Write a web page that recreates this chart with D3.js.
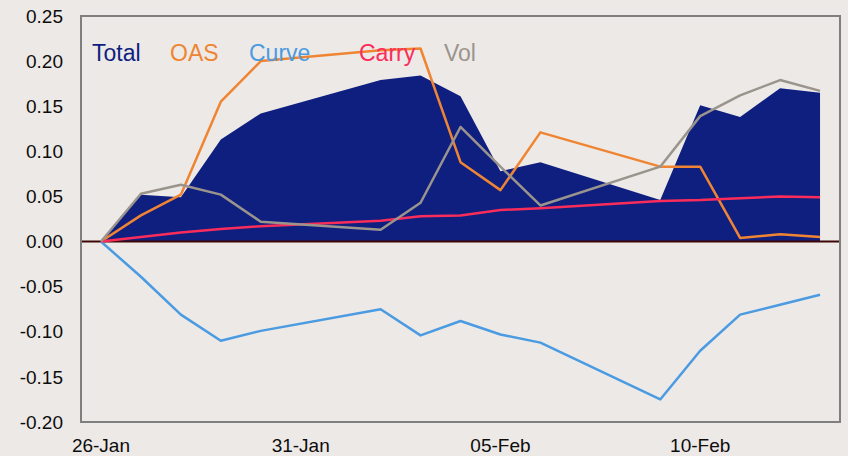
<!DOCTYPE html>
<html>
<head>
<meta charset="utf-8" />
<script src="https://d3js.org/d3.v7.min.js"></script>
<style>
	body { margin: 0; background: #ede9e6; }
	text { font-family: "Liberation Sans", Arial, sans-serif; }
</style>
</head>
<body>
<div id="chart"></div>
<script>

// business days, 26-Jan to 13-Feb
var dates = ["2015-01-26", "2015-01-27", "2015-01-28", "2015-01-29", "2015-01-30",
	"2015-02-02", "2015-02-03", "2015-02-04", "2015-02-05", "2015-02-06",
	"2015-02-09", "2015-02-10", "2015-02-11", "2015-02-12", "2015-02-13"];

var total = [0, 0.052, 0.049, 0.113, 0.142, 0.179, 0.184, 0.161, 0.078, 0.088, 0.046, 0.151, 0.138, 0.170, 0.165];
var oas   = [0, 0.029, 0.052, 0.155, 0.200, 0.212, 0.214, 0.088, 0.057, 0.121, 0.083, 0.083, 0.004, 0.008, 0.005];
var curve = [0, -0.039, -0.081, -0.110, -0.099, -0.075, -0.104, -0.088, -0.103, -0.112, -0.175, -0.121, -0.081, -0.070, -0.059];
var carry = [0, 0.005, 0.010, 0.014, 0.017, 0.023, 0.028, 0.029, 0.035, 0.037, 0.045, 0.046, 0.048, 0.050, 0.049];
var vol   = [0, 0.053, 0.063, 0.052, 0.022, 0.013, 0.043, 0.127, 0.083, 0.040, 0.083, 0.139, 0.162, 0.179, 0.167];

var yTicks = [0.25, 0.20, 0.15, 0.10, 0.05, 0, -0.05, -0.10, -0.15, -0.20];
var yTickLabels = ["0.25", "0.20", "0.15", "0.10", "0.05", "0.00", "-0.05", "-0.10", "-0.15", "-0.20"];
var xTicks = ["2015-01-26", "2015-01-31", "2015-02-05", "2015-02-10"];

var legendNames = ["Total", "OAS", "Curve", "Carry", "Vol"];
var legendColors = ["#0f1f80", "#ef8532", "#4a9be2", "#fa2d5a", "#9a948d"];

var parse = d3.timeParse("%Y-%m-%d");
var days = dates.map(parse);

var width = 848, height = 456;
var plot = { left: 81, right: 840, top: 16, bottom: 422 };

var svg = d3.select("#chart").append("svg")
	.attr("width", width)
	.attr("height", height);

svg.append("rect").attr("width", width).attr("height", height).attr("fill", "#ede9e6");

// date axis, half a day of padding on each end
var x = d3.scaleTime()
	.domain([d3.timeHour.offset(days[0], -12), d3.timeHour.offset(days[days.length - 1], 12)])
	.range([plot.left, plot.right]);

var y = d3.scaleLinear()
	.domain([-0.20, 0.25])
	.range([plot.bottom, plot.top]);

// Total area
var area = d3.area()
	.x(function (d, i) { return x(days[i]); })
	.y0(y(0))
	.y1(function (d) { return y(d); });

svg.append("path")
	.datum(total)
	.attr("d", area)
	.attr("fill", legendColors[0]);

// zero line
svg.append("line")
	.attr("x1", plot.left).attr("x2", plot.right)
	.attr("y1", y(0)).attr("y2", y(0))
	.attr("stroke", "#3e0707")
	.attr("stroke-width", 2);

var line = d3.line()
	.x(function (d, i) { return x(days[i]); })
	.y(function (d) { return y(d); });

var series = [oas, curve, carry, vol];
series.forEach(function (s, k) {
	svg.append("path")
		.datum(s)
		.attr("d", line)
		.attr("fill", "none")
		.attr("stroke", legendColors[k + 1])
		.attr("stroke-width", 2.5)
		.attr("stroke-linejoin", "round");
});

// plot frame
svg.append("rect")
	.attr("x", plot.left).attr("y", plot.top)
	.attr("width", plot.right - plot.left)
	.attr("height", plot.bottom - plot.top)
	.attr("fill", "none")
	.attr("stroke", "#7f7f7f")
	.attr("stroke-width", 2);

// y labels
svg.selectAll(".ylab")
	.data(yTicks).enter()
	.append("text")
	.attr("class", "ylab")
	.attr("x", 63)
	.attr("y", function (d) { return y(d); })
	.attr("dy", "0.35em")
	.attr("text-anchor", "end")
	.attr("font-size", 19)
	.attr("fill", "#0d0d0d")
	.text(function (d, i) { return yTickLabels[i]; });

// x labels
var fmt = d3.timeFormat("%d-%b");
svg.selectAll(".xlab")
	.data(xTicks.map(parse)).enter()
	.append("text")
	.attr("class", "xlab")
	.attr("x", function (d) { return x(d); })
	.attr("y", 452)
	.attr("text-anchor", "middle")
	.attr("font-size", 19)
	.attr("fill", "#0d0d0d")
	.text(function (d) { return fmt(d); });

// legend
var legendX = [92, 170, 249, 359, 444];
svg.selectAll(".leg")
	.data(legendNames).enter()
	.append("text")
	.attr("class", "leg")
	.attr("x", function (d, i) { return legendX[i]; })
	.attr("y", 61)
	.attr("font-size", 23)
	.attr("fill", function (d, i) { return legendColors[i]; })
	.text(function (d) { return d; });

</script>
</body>
</html>
